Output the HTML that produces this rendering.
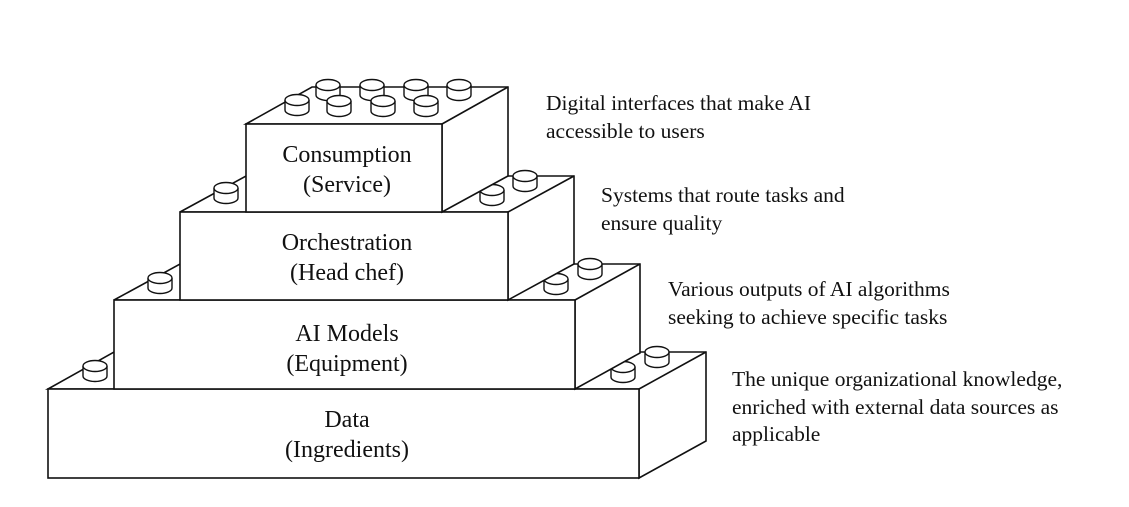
<!DOCTYPE html>
<html><head><meta charset="utf-8"><style>
body{margin:0;background:#fff}
svg{display:block}
text{font-family:"Liberation Serif",serif;fill:#111}
</style></head><body>
<svg width="1129" height="507" viewBox="0 0 1129 507" xmlns="http://www.w3.org/2000/svg">
<defs>
<g id="stud">
<path d="M-12,0 L-12,10 A12,5.5 0 0 0 12,10 L12,0" fill="#fff" stroke="#111" stroke-width="1.4"/>
<ellipse cx="0" cy="0" rx="12" ry="5.5" fill="#fff" stroke="#111" stroke-width="1.4"/>
</g>
</defs>
<g fill="#fff" stroke="#111" stroke-width="1.6" stroke-linejoin="miter">
<polygon points="48,389 114,352 706,352 706,441 639,478 639,389"/>
<rect x="48" y="389" width="591" height="89"/>
<line x1="639" y1="389" x2="706" y2="352"/>
</g>
<use href="#stud" x="95" y="366"/>
<use href="#stud" x="657" y="352"/>
<use href="#stud" x="623" y="367"/>
<g fill="#fff" stroke="#111" stroke-width="1.6">
<polygon points="114,300 180,264 640,264 640,353 575,389 575,300"/>
<rect x="114" y="300" width="461" height="89"/>
<line x1="575" y1="300" x2="640" y2="264"/>
</g>
<use href="#stud" x="160" y="278"/>
<use href="#stud" x="590" y="264"/>
<use href="#stud" x="556" y="279"/>
<g fill="#fff" stroke="#111" stroke-width="1.6">
<polygon points="180,212 246,176 574,176 574,264 508,300 508,212"/>
<rect x="180" y="212" width="328" height="88"/>
<line x1="508" y1="212" x2="574" y2="176"/>
</g>
<use href="#stud" x="226" y="188"/>
<use href="#stud" x="525" y="176"/>
<use href="#stud" x="492" y="190"/>
<g fill="#fff" stroke="#111" stroke-width="1.6">
<polygon points="246,124 312,87 508,87 508,176 442,212 442,124"/>
<rect x="246" y="124" width="196" height="88"/>
<line x1="442" y1="124" x2="508" y2="87"/>
</g>
<use href="#stud" x="328" y="85"/>
<use href="#stud" x="372" y="85"/>
<use href="#stud" x="416" y="85"/>
<use href="#stud" x="459" y="85"/>
<use href="#stud" x="297" y="100"/>
<use href="#stud" x="339" y="101"/>
<use href="#stud" x="383" y="101"/>
<use href="#stud" x="426" y="101"/>
<g font-size="24" text-anchor="middle">
<text x="347" y="162">Consumption</text><text x="347" y="192">(Service)</text>
<text x="347" y="250">Orchestration</text><text x="347" y="280">(Head chef)</text>
<text x="347" y="341">AI Models</text><text x="347" y="371">(Equipment)</text>
<text x="347" y="427">Data</text><text x="347" y="457">(Ingredients)</text>
</g>
<g font-size="21.5">
<text x="546" y="110">Digital interfaces that make AI</text>
<text x="546" y="138">accessible to users</text>
<text x="601" y="202">Systems that route tasks and</text>
<text x="601" y="230">ensure quality</text>
<text x="668" y="296">Various outputs of AI algorithms</text>
<text x="668" y="324">seeking to achieve specific tasks</text>
<text x="732" y="386">The unique organizational knowledge,</text>
<text x="732" y="414">enriched with external data sources as</text>
<text x="732" y="441">applicable</text>
</g>
</svg>
</body></html>
